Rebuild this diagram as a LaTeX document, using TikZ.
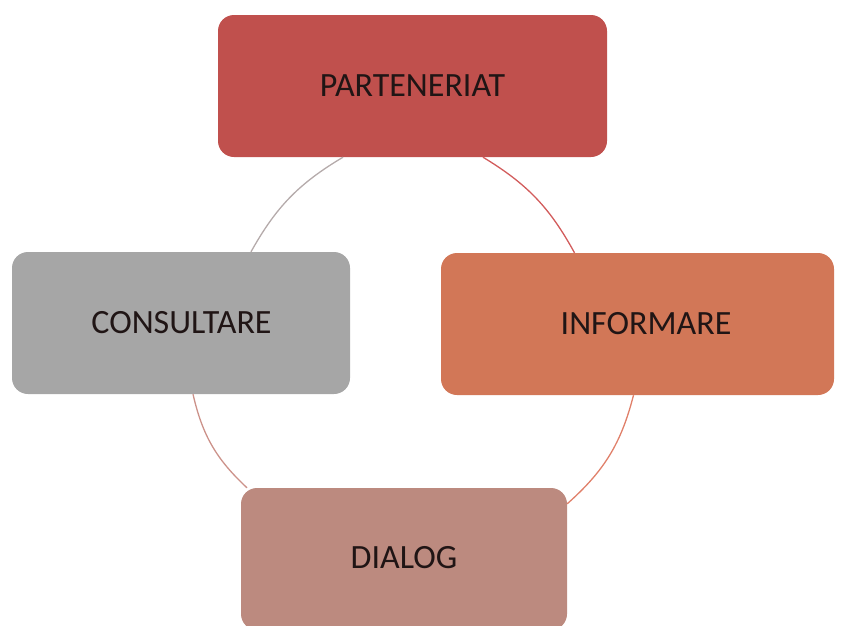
\documentclass[tikz,border=0pt]{standalone}
\usepackage{fontspec}
\setmainfont{Carlito}
\definecolor{cP}{HTML}{C0504D}
\definecolor{cI}{HTML}{D27757}
\definecolor{cC}{HTML}{A6A6A6}
\definecolor{cD}{HTML}{BC8A7F}
\definecolor{txt}{HTML}{201515}
\definecolor{aTL}{HTML}{B5ABAB}
\definecolor{aTR}{HTML}{D25C5C}
\definecolor{aBR}{HTML}{E0806A}
\definecolor{aBL}{HTML}{CC928A}
\tikzset{
  box/.style={rounded corners=16pt, inner sep=0pt, text=txt,
    font=\fontsize{34}{40}\selectfont},
  cyc/.style={line width=1.3pt}
}
\begin{document}
\begin{tikzpicture}[x=1pt,y=-1pt]
\useasboundingbox (0,0) rectangle (841,625);
\clip (0,0) rectangle (841,625);
\node[box, fill=cP, minimum width=389pt, minimum height=142pt] (P) at (412.5,86) {};
\node[box, fill=cI, minimum width=393pt, minimum height=142pt] (I) at (637.5,324) {};
\node[box, fill=cC, minimum width=338pt, minimum height=142pt] (C) at (181,323) {};
\node[box, fill=cD, minimum width=326pt, minimum height=142pt] (D) at (404,559) {};
\node[text=txt, font=\fontsize{34}{40}\selectfont] (Pt) at (412.5,86) {PARTENERIAT};
\node[text=txt, font=\fontsize{34}{40}\selectfont] (It) at (646,324) {INFORMARE};
\node[text=txt, font=\fontsize{34}{40}\selectfont] (Ct) at (181.5,323) {CONSULTARE};
\node[text=txt, font=\fontsize{34}{40}\selectfont] (Dt) at (404,558) {DIALOG};
\draw[cyc, aTL] ([xshift=-69.5pt]P.south) to[bend right=15] ([xshift=70pt]C.north);
\draw[cyc, aTR] ([xshift=70.5pt]P.south) to[bend left=15] ([xshift=-63pt]I.north);
\draw[cyc, aBR] ([xshift=-4pt]I.south) to[bend left=17] ([yshift=-16pt]D.north east);
\draw[cyc, aBL] ([xshift=12pt]C.south) to[bend right=17] ([xshift=-157pt]D.north);
\end{tikzpicture}
\end{document}
